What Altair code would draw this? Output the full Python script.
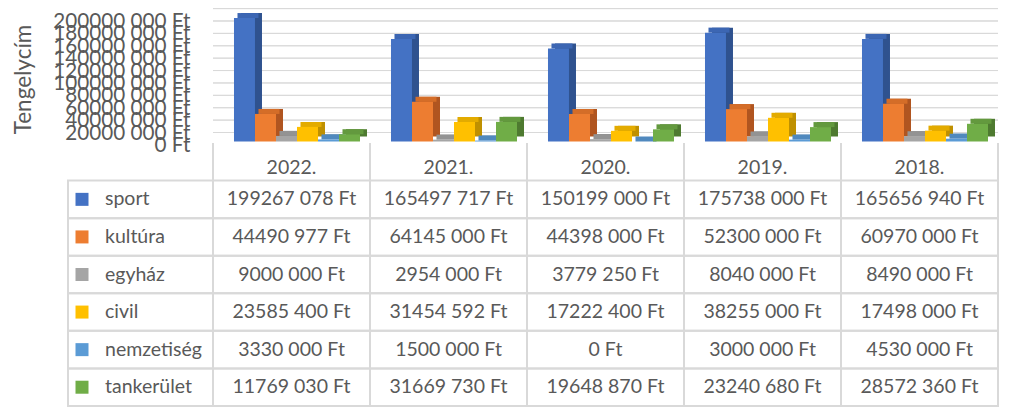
import altair as alt
import pandas as pd

years = ["2022.", "2021.", "2020.", "2019.", "2018."]
series = ["sport", "kultúra", "egyház", "civil", "nemzetiség", "tankerület"]
sport = [199267078, 165497717, 150199000, 175738000, 165656940]
kultura = [44490977, 64145000, 44398000, 52300000, 60970000]
egyhaz = [9000000, 2954000, 3779250, 8040000, 8490000]
civil = [23585400, 31454592, 17222400, 38255000, 17498000]
nemzetiseg = [3330000, 1500000, 0, 3000000, 4530000]
tankerulet = [11769030, 31669730, 19648870, 23240680, 28572360]
y_ticks = [0, 20000000, 40000000, 60000000, 80000000, 100000000,
           120000000, 140000000, 160000000, 180000000, 200000000]
axis_title = "Tengelycím"

front_colors = ["#4472C4", "#ED7D31", "#A5A5A5", "#FFC000", "#5B9BD5", "#70AD47"]
top_colors = ["#3C66B3", "#D46D28", "#939393", "#E3AB00", "#5089BE", "#63993E"]
side_colors = ["#2F528F", "#B05520", "#787878", "#BF9000", "#3F6F9A", "#4E7A30"]
text_color = "#595959"
line_color = "#d9d9d9"
FONT = "Lato"

label_col = "label"
cols = [label_col] + years
rows = ["hdr"] + series

values_by_series = [sport, kultura, egyhaz, civil, nemzetiseg, tankerulet]
df = pd.DataFrame([
    {"col": y, "row": s, "value": v}
    for s, vals in zip(series, values_by_series)
    for y, v in zip(years, vals)
])
df_grid = pd.DataFrame([{"col": y, "value": t} for y in years for t in y_ticks])
df_cells = pd.DataFrame([{"col": c, "row": r} for r in series for c in years])
df_lcells = pd.DataFrame([{"col": label_col, "row": r} for r in series])
df_vlines = pd.DataFrame([{"col": y, "row": "hdr", "row2": "sport"} for y in years])
df_hdr = pd.DataFrame([{"col": y, "row": "hdr", "text": y} for y in years])
df_leg = pd.DataFrame([{"col": label_col, "row": s, "text": s} for s in series])

fmt = ("datum.{f} >= 1000 ? format(floor(datum.{f}/1000),'d') + ' ' + "
       "format(datum.{f} % 1000,'03d') + ' Ft' : format(datum.{f},'d') + ' Ft'")

x_scale = alt.Scale(type="band", domain=cols, paddingInner=0, paddingOuter=0)
y_bar = alt.Scale(domain=[0, 200000000], range=[133.5, 9.6], nice=False, zero=True)
y_row = alt.Scale(type="band", domain=rows, range=[135, 398], paddingInner=0, paddingOuter=0)

y_axis = alt.Axis(
    values=y_ticks, labelExpr=fmt.format(f="value"), offset=-136, ticks=False,
    domain=False, grid=False, labelPadding=2, labelOverlap=False, labelFlush=False,
    labelFont=FONT, labelFontSize=20.7, labelColor=text_color, labelOffset=4,
    title=axis_title, titleFont=FONT, titleFontSize=22.5, titleFontWeight="normal",
    titleColor=text_color, titleX=-169, titleY=71, titleAngle=-90,
    titleAlign="center", titleBaseline="middle",
)

X = alt.X("col:N", scale=x_scale, axis=None)


def offset_scale(align):
    return alt.Scale(domain=series, paddingInner=0, paddingOuter=0.738, align=align)


grid = alt.Chart(df_grid).mark_rect(
    fillOpacity=0, stroke=line_color, strokeWidth=1, yOffset=-9, y2Offset=-9
).encode(x=X, y=alt.Y("value:Q", scale=y_bar, axis=y_axis), y2="value:Q")

side = alt.Chart(df).mark_bar(yOffset=-5, y2Offset=-5).encode(
    x=X, xOffset=alt.XOffset("row:N", scale=offset_scale(0.903)),
    y=alt.Y("value:Q", scale=y_bar, axis=y_axis),
    color=alt.Color("row:N", scale=alt.Scale(domain=series, range=side_colors), legend=None),
)
top = alt.Chart(df).mark_bar(yOffset=-5).encode(
    x=X, xOffset=alt.XOffset("row:N", scale=offset_scale(0.79)),
    y=alt.Y("value:Q", scale=y_bar, axis=y_axis), y2="value:Q",
    color=alt.Color("row:N", scale=alt.Scale(domain=series, range=top_colors), legend=None),
)
front = alt.Chart(df).mark_bar().encode(
    x=X, xOffset=alt.XOffset("row:N", scale=offset_scale(0.677)),
    y=alt.Y("value:Q", scale=y_bar, axis=y_axis),
    color=alt.Color("row:N", scale=alt.Scale(domain=series, range=front_colors), legend=None),
)
bars = alt.layer(grid, side, top, front).resolve_scale(color="independent", xOffset="independent")

Y = alt.Y("row:N", scale=y_row, axis=None)
XL = alt.X("col:N", scale=x_scale, axis=None, bandPosition=0)
XR = alt.X("col:N", scale=x_scale, axis=None, bandPosition=1)
cells = alt.Chart(df_cells).mark_rect(fillOpacity=0, stroke=line_color, strokeWidth=2).encode(x=X, y=Y)
lcells = alt.Chart(df_lcells).mark_rect(
    fillOpacity=0, stroke=line_color, strokeWidth=2, width=145, xOffset=6
).encode(x=X, y=Y)
YT = alt.Y("row:N", scale=y_row, axis=None, bandPosition=0)
vl = alt.Chart(df_vlines).mark_rule(stroke=line_color, strokeWidth=2).encode(x=XL, y=YT, y2="row2:N")
vr = alt.Chart(df_vlines).mark_rule(stroke=line_color, strokeWidth=2).encode(x=XR, y=YT, y2="row2:N")
hdr = alt.Chart(df_hdr).mark_text(font=FONT, fontSize=19.5, color=text_color, dy=6).encode(
    x=X, y=Y, text="text:N")
vals = alt.Chart(df).transform_calculate(label=fmt.format(f="value")).mark_text(
    font=FONT, fontSize=19.5, color=text_color).encode(x=X, y=Y, text="label:N")
swatch = alt.Chart(df_leg).mark_square(size=169, xOffset=26, opacity=1).encode(
    x=XL, y=Y,
    color=alt.Color("row:N", scale=alt.Scale(domain=series, range=front_colors), legend=None))
leg = alt.Chart(df_leg).mark_text(font=FONT, fontSize=19.5, color=text_color,
                                  align="left", dx=49).encode(x=XL, y=Y, text="text:N")
table = alt.layer(cells, lcells, vl, vr, hdr, vals, swatch, leg)

chart = alt.layer(bars, table).resolve_scale(y="independent", color="independent").properties(
    width=942, height=398,
    padding={"left": 48, "top": 0, "right": 5, "bottom": 3},
    autosize=alt.AutoSizeParams(type="none"),
).configure_view(stroke="transparent")

chart.save("out.html", embed_options={"renderer": "svg", "actions": False})
